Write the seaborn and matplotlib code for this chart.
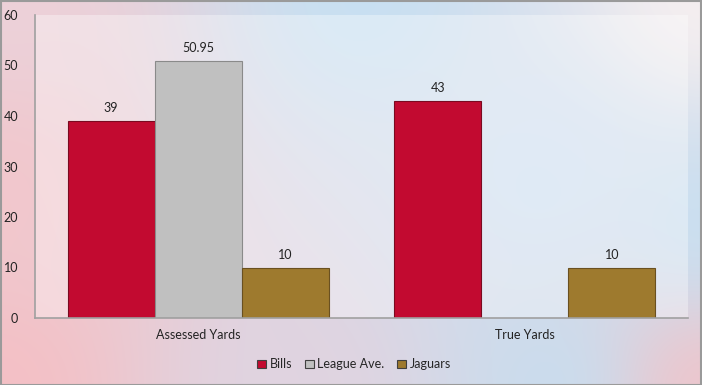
import numpy as np
import pandas as pd
import matplotlib
matplotlib.use("Agg")
import matplotlib.pyplot as plt
import seaborn as sns
from matplotlib.patches import Rectangle

categories = ["Assessed Yards", "True Yards"]
series = ["Bills", "League Ave.", "Jaguars"]
bills = [39, 43]
league = [50.95, np.nan]
jaguars = [10, 10]
label_texts = {"Bills": ["39", "43"], "League Ave.": ["50.95", ""], "Jaguars": ["10", "10"]}
colors = ["#C20A30", "#C0C0C0", "#9E7A2E"]
edges = ["#7A0A20", "#8A8A8A", "#6A5020"]

df = pd.DataFrame({
    "category": categories * 3,
    "series": [s for s in series for _ in categories],
    "value": bills + league + jaguars,
})

sns.set_theme(style="white")
plt.rcParams["font.family"] = ["Lato", "DejaVu Sans"]

fig = plt.figure(figsize=(7.02, 3.85), dpi=100)

# background gradient (smooth inverse-distance blend of sampled colours)
bg = fig.add_axes([0, 0, 1, 1], zorder=-10)
h, w = 385, 702
yy, xx = np.mgrid[0:h, 0:w].astype(float)
anchors = [
    (0, 0, (0.93, 0.82, 0.85)),
    (0, 190, (0.95, 0.78, 0.80)),
    (0, 385, (0.96, 0.75, 0.77)),
    (360, 0, (0.78, 0.88, 0.95)),
    (702, 0, (0.97, 0.94, 0.94)),
    (702, 230, (0.78, 0.88, 0.95)),
    (702, 385, (0.95, 0.76, 0.78)),
    (560, 385, (0.78, 0.87, 0.94)),
    (300, 385, (0.88, 0.83, 0.88)),
    (540, 180, (0.81, 0.88, 0.95)),
]
num = np.zeros((h, w, 3))
den = np.zeros((h, w))
for ax_, ay_, c in anchors:
    wt = 1.0 / (((xx - ax_) ** 2 + (yy - ay_) ** 2) + 4000.0) ** 1.3
    num += wt[..., None] * np.array(c)[None, None, :]
    den += wt
img = num / den[..., None]
bg.imshow(img, aspect="auto", extent=[0, 1, 0, 1], origin="upper", interpolation="bilinear")
bg.set_axis_off()
fig.patches.append(Rectangle((0.5 / w, 0.5 / h), 1 - 1.5 / w, 1 - 1.5 / h, transform=fig.transFigure,
                             fill=False, edgecolor="#9a9a9a", linewidth=1.5, zorder=10))

ax = fig.add_axes([35 / 702, 1 - 318 / 385, (688 - 35) / 702, (318 - 15) / 385])
ax.patch.set_facecolor("white")
ax.patch.set_alpha(0.35)

sns.barplot(data=df, x="category", y="value", hue="series", hue_order=series,
            palette=colors, width=0.8, ax=ax, saturation=1, legend=True, gap=0)

for cont, s, ec in zip(ax.containers, series, edges):
    for bar, txt in zip(cont, label_texts[s]):
        if bar is None:
            continue
        bar.set_edgecolor(ec)
        bar.set_linewidth(0.8)
        if txt:
            ax.annotate(txt, (bar.get_x() + bar.get_width() / 2, bar.get_height()),
                        xytext=(0, 5), textcoords="offset points", ha="center", va="bottom",
                        fontsize=9, color="#222222")

ax.set_ylim(0, 60)
ax.set_yticks(range(0, 61, 10))
ax.set_xlabel("")
ax.set_ylabel("")
ax.tick_params(axis="both", labelsize=9, colors="#222222", length=0)
ax.tick_params(axis="y", pad=12)
ax.tick_params(axis="x", pad=8)
for side in ["top", "right"]:
    ax.spines[side].set_visible(False)
for side in ["left", "bottom"]:
    ax.spines[side].set_color("#a0a0a0")
    ax.spines[side].set_linewidth(1.2)

handles, labels = ax.get_legend_handles_labels()
for hdl in handles:
    hdl.set_edgecolor("#404040")
    hdl.set_linewidth(0.8)
ax.legend(handles, labels, loc="center", bbox_to_anchor=(0.5 + (354 - 361.5) / 653, -0.153),
          ncol=3, frameon=False, fontsize=9, handlelength=0.7, handleheight=0.7,
          handletextpad=0.3, columnspacing=1.0)

fig.savefig("out.png", dpi=100)
